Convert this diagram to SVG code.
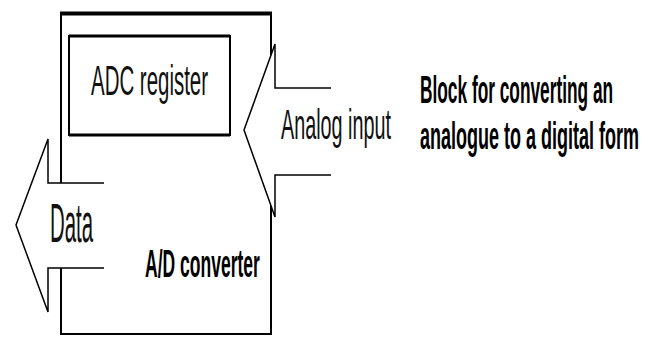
<svg xmlns="http://www.w3.org/2000/svg" width="656" height="338" viewBox="0 0 656 338">
<style>
.ln{fill:none;stroke:#000;stroke-width:2}
.ar{fill:#fff;stroke:#000;stroke-width:1.5;stroke-linejoin:miter}
.t{font-family:"Liberation Sans",Arial,sans-serif;fill:#111}
.b{font-family:"Liberation Sans",Arial,sans-serif;font-weight:bold;fill:#000}
</style>
<rect width="656" height="338" fill="#fff"/>
<g id="converter">
<rect class="ln" x="61" y="14" width="210" height="320"/>
<line x1="60" y1="13.5" x2="272" y2="13.5" stroke="#000" stroke-width="4"/>
<text class="b" font-size="38" transform="translate(145,277) scale(0.461,1)">A/D converter</text>
</g>
<g id="adc-register">
<rect class="ln" x="69" y="36" width="161" height="99"/>
<line x1="69" y1="36" x2="230" y2="36" stroke="#000" stroke-width="3"/>
<line x1="69" y1="135" x2="230" y2="135" stroke="#000" stroke-width="3"/>
<text class="t" font-size="42" transform="translate(91,95) scale(0.487,1)">ADC register</text>
</g>
<g id="connectors">
<g id="analog-input">
<polyline class="ar" points="331,88 275,88 275,44 244,130 275,217 275,175 331,175"/>
<text class="t" font-size="42" transform="translate(281,139) scale(0.471,1)">Analog input</text>
</g>
<g id="data">
<polyline class="ar" points="104,183 48,183 48,139 16,225 48,312 48,268 104,268"/>
<text class="t" font-size="55" transform="translate(50,242) scale(0.37,1)">Data</text>
</g>
</g>
<g id="caption">
<text class="b" font-size="38" transform="translate(420,103) scale(0.455,1)">Block for converting an</text>
<text class="b" font-size="38" transform="translate(420,149) scale(0.474,1)">analogue to a digital form</text>
</g>
</svg>
